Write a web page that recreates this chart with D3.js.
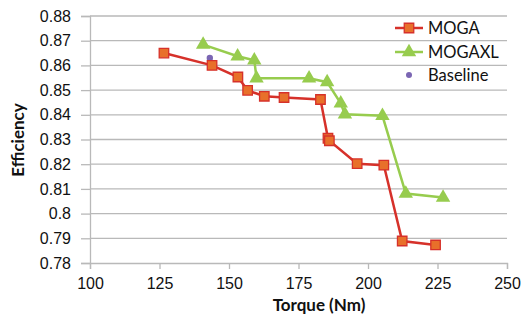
<!DOCTYPE html>
<html>
<head>
<meta charset="utf-8">
<script src="https://cdn.jsdelivr.net/npm/d3@7"></script>
<style>
  html, body { margin: 0; padding: 0; background: #fff; }
  svg { display: block; font-family: Lato, "Open Sans", sans-serif; }
</style>
</head>
<body>
<svg id="chart" width="526" height="320"></svg>
<script>
// Efficiency vs torque for the optimised designs
const mogaTorque = [126.6, 143.9, 153.2, 156.7, 162.7, 169.8, 182.9, 185.6, 186.1, 196.1, 205.7, 212.3, 224.3];
const mogaEff    = [0.865, 0.860, 0.8553, 0.8499, 0.8475, 0.847, 0.8462, 0.8305, 0.8295, 0.8202, 0.8196, 0.7889, 0.7873];
const moxlTorque = [140.7, 153.1, 159.1, 159.9, 178.8, 185.3, 190.2, 191.7, 205.2, 213.6, 227.0];
const moxlEff    = [0.8684, 0.8637, 0.8621, 0.8548, 0.8548, 0.8532, 0.8446, 0.8402, 0.8396, 0.8081, 0.8065];
const baseTorque = [143.1];
const baseEff    = [0.863];
const xTicks = [100, 125, 150, 175, 200, 225, 250];
const yTicks = [0.78, 0.79, 0.80, 0.81, 0.82, 0.83, 0.84, 0.85, 0.86, 0.87, 0.88];
const seriesNames = ["MOGA", "MOGAXL", "Baseline"];

const svg = d3.select("#chart");
const plotL = 90, plotR = 507, plotT = 16, plotB = 263;

const x = d3.scaleLinear().domain([100, 250]).range([plotL, plotR]);
const y = d3.scaleLinear().domain([0.78, 0.88]).range([plotB, plotT]);

const gridColor = "#b9b9b9";

// horizontal gridlines
svg.append("g").selectAll("line").data(yTicks.slice(1)).join("line")
  .attr("x1", plotL).attr("x2", plotR)
  .attr("y1", d => y(d)).attr("y2", d => y(d))
  .attr("stroke", gridColor).attr("stroke-width", 1.3);

// y axis
const yAxis = svg.append("g").attr("transform", `translate(${plotL},0)`)
  .call(d3.axisLeft(y).tickValues(yTicks).tickSize(9).tickPadding(10)
    .tickFormat(d => d3.format(".2~f")(d)));
yAxis.select(".domain").attr("stroke", gridColor).attr("stroke-width", 1.3);
yAxis.selectAll(".tick line").attr("stroke", gridColor).attr("stroke-width", 1.3);
yAxis.selectAll("text").attr("font-size", 16).attr("fill", "#111");

// x axis
const xAxis = svg.append("g").attr("transform", `translate(0,${plotB})`)
  .call(d3.axisBottom(x).tickValues(xTicks).tickSize(6).tickPadding(9));
xAxis.select(".domain").attr("stroke", gridColor).attr("stroke-width", 1.3);
xAxis.selectAll(".tick line").attr("stroke", gridColor).attr("stroke-width", 1.3);
xAxis.selectAll("text").attr("font-size", 16).attr("fill", "#111");

// axis titles
svg.append("text").attr("x", 319).attr("y", 311).attr("text-anchor", "middle")
  .attr("font-size", 17).attr("font-weight", "bold").attr("fill", "#111")
  .text("Torque (Nm)");
svg.append("text").attr("transform", "translate(24,140) rotate(-90)")
  .attr("text-anchor", "middle")
  .attr("font-size", 17).attr("font-weight", "bold").attr("fill", "#111")
  .text("Efficiency");

const line = d3.line().x(d => x(d[0])).y(d => y(d[1]));
const moga = mogaTorque.map((t, i) => [t, mogaEff[i]]);
const moxl = moxlTorque.map((t, i) => [t, moxlEff[i]]);
const base = baseTorque.map((t, i) => [t, baseEff[i]]);

const red = "#d6312a", orange = "#e8702a", green = "#97cc4e", purple = "#7b66b3";
const sq = d3.symbol().type(d3.symbolSquare).size(90);
const tri = d3.symbol().type(d3.symbolTriangle).size(90);

// MOGAXL
svg.append("path").datum(moxl).attr("d", line)
  .attr("fill", "none").attr("stroke", green).attr("stroke-width", 2.5);
svg.append("g").selectAll("path").data(moxl).join("path")
  .attr("d", tri).attr("transform", d => `translate(${x(d[0])},${y(d[1])})`)
  .attr("fill", green);

// Baseline
svg.append("g").selectAll("circle").data(base).join("circle")
  .attr("cx", d => x(d[0])).attr("cy", d => y(d[1])).attr("r", 3.2)
  .attr("fill", purple);

// MOGA
svg.append("path").datum(moga).attr("d", line)
  .attr("fill", "none").attr("stroke", red).attr("stroke-width", 2.5);
svg.append("g").selectAll("path").data(moga).join("path")
  .attr("d", sq).attr("transform", d => `translate(${x(d[0])},${y(d[1])})`)
  .attr("fill", orange).attr("stroke", red).attr("stroke-width", 1.3);

// legend
const lg = svg.append("g");
const lx = 395, lw = 28, ltx = 428, rows = [28, 52, 75];
lg.append("line").attr("x1", lx).attr("x2", lx + lw).attr("y1", rows[0]).attr("y2", rows[0])
  .attr("stroke", red).attr("stroke-width", 2.5);
lg.append("path").attr("d", sq).attr("transform", `translate(${lx + lw / 2},${rows[0]})`)
  .attr("fill", orange).attr("stroke", red).attr("stroke-width", 1.3);
lg.append("line").attr("x1", lx).attr("x2", lx + lw).attr("y1", rows[1]).attr("y2", rows[1])
  .attr("stroke", green).attr("stroke-width", 2.5);
lg.append("path").attr("d", tri).attr("transform", `translate(${lx + lw / 2},${rows[1]})`)
  .attr("fill", green);
lg.append("circle").attr("cx", lx + lw / 2).attr("cy", rows[2]).attr("r", 3)
  .attr("fill", purple);
lg.selectAll("text").data(seriesNames).join("text")
  .attr("x", ltx).attr("y", (d, i) => rows[i]).attr("dy", "0.36em")
  .attr("font-size", 16.5).attr("fill", "#111").text(d => d);
</script>
</body>
</html>
